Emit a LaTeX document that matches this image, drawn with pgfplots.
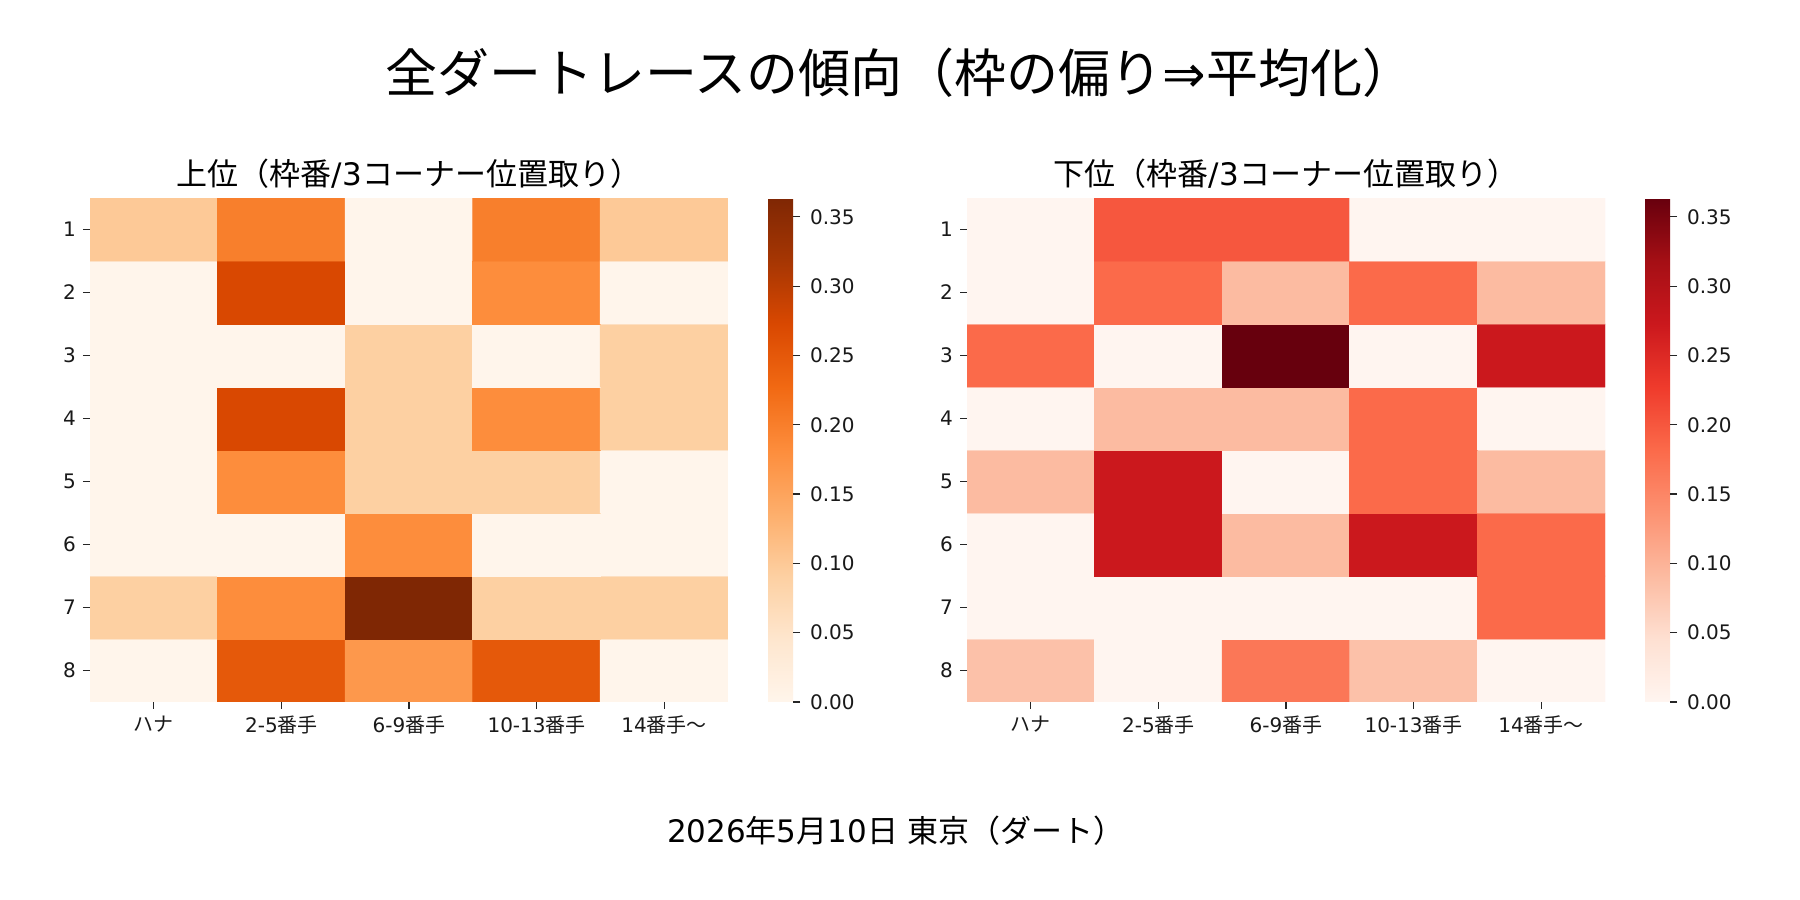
\documentclass[border=0pt]{standalone}
\usepackage{pgfplots}
\pgfplotsset{compat=1.18}
\usepackage{pgfplotstable}
\usepackage{fontspec}
\setmainfont{Noto Sans CJK JP}
\newfontfamily\dv{DejaVu Sans}
\pgfkeys{/pgf/number format/assume math mode=true}
\pgfplotsset{
  colormap={oranges}{rgb255=(255,245,235) rgb255=(254,230,206) rgb255=(253,208,162) rgb255=(253,174,107) rgb255=(253,141,60) rgb255=(241,105,19) rgb255=(217,72,1) rgb255=(166,54,3) rgb255=(127,39,4)},
  colormap={reds}{rgb255=(255,245,240) rgb255=(254,224,210) rgb255=(252,187,161) rgb255=(252,146,114) rgb255=(251,106,74) rgb255=(239,59,44) rgb255=(203,24,29) rgb255=(165,15,21) rgb255=(103,0,13)},
  heat/.style={
    scale only axis, width=319pt, height=252pt, anchor=south west,
    xmin=-0.5, xmax=4.5, ymin=0.5, ymax=8.5,
    axis line style={draw=none},
    xtick={0,1,2,3,4},
    xticklabels={ハナ,{\dv 2-5}番手,{\dv 6-9}番手,{\dv 10-13}番手,{\dv 14}番手〜},
    ytick={1,2,3,4,5,6,7,8},
    yticklabels={8,7,6,5,4,3,2,1},
    tick pos=left, tick align=outside,
    major tick length=3.5pt,
    tick style={black!85, line width=0.6pt},
    xticklabel style={font=\fontsize{10}{12}\selectfont, text=black!90},
    yticklabel style={font=\dv\fontsize{10}{12}\selectfont, text=black!90},
    point meta min=0, point meta max=0.3636,
    colorbar,
    colorbar style={
      at={(parent axis.north east)}, anchor=north west, xshift=11.5pt,
      width=12.5pt,
      axis line style={draw=none},
      ytick={0,0.05,0.1,0.15,0.2,0.25,0.3,0.35},
      ytick pos=right, yticklabel pos=right, ytick align=outside,
      major tick length=3.5pt,
      tick style={black!85, line width=0.6pt},
      yticklabel style={font=\dv\fontsize{10}{12}\selectfont, text=black!90, xshift=1.5pt,
        /pgf/number format/fixed, /pgf/number format/zerofill,
        /pgf/number format/precision=2},
    },
  },
}
% columns: x (0=ハナ ... 4=14番手〜), y (1 = row 8 ... 8 = row 1), value
\pgfplotstableread{
x y v
0 1 0
1 1 0.25
2 1 0.1667
3 1 0.25
4 1 0
0 2 0.0909
1 2 0.1818
2 2 0.3636
3 2 0.0909
4 2 0.0909
0 3 0
1 3 0
2 3 0.1818
3 3 0
4 3 0
0 4 0
1 4 0.1818
2 4 0.0909
3 4 0.0909
4 4 0
0 5 0
1 5 0.2727
2 5 0.0909
3 5 0.1818
4 5 0.0909
0 6 0
1 6 0
2 6 0.0909
3 6 0
4 6 0.0909
0 7 0
1 7 0.2727
2 7 0
3 7 0.1818
4 7 0
0 8 0.1
1 8 0.2
2 8 0
3 8 0.2
4 8 0.1
}\uppertab
\pgfplotstableread{
x y v
0 1 0.0833
1 1 0
2 1 0.1667
3 1 0.0833
4 1 0
0 2 0
1 2 0
2 2 0
3 2 0
4 2 0.1818
0 3 0
1 3 0.2727
2 3 0.0909
3 3 0.2727
4 3 0.1818
0 4 0.0909
1 4 0.2727
2 4 0
3 4 0.1818
4 4 0.0909
0 5 0
1 5 0.0909
2 5 0.0909
3 5 0.1818
4 5 0
0 6 0.1818
1 6 0
2 6 0.3636
3 6 0
4 6 0.2727
0 7 0
1 7 0.1818
2 7 0.0909
3 7 0.1818
4 7 0.0909
0 8 0
1 8 0.2
2 8 0.2
3 8 0
4 8 0
}\lowertab
\begin{document}
\begin{tikzpicture}
\fill[white] (0,0) rectangle (900pt,450pt);
\path[use as bounding box] (0,0) rectangle (900pt,450pt);
\node[anchor=center, text=black] at (450pt,413.5pt) {\fontsize{26}{30}\selectfont 全ダートレースの傾向（枠の偏り{\dv ⇒}平均化）};
\node[anchor=center, text=black] at (204.5pt,363pt) {\fontsize{15.5}{18}\selectfont 上位（枠番{\dv /3}コーナー位置取り）};
\node[anchor=center, text=black] at (643pt,363pt) {\fontsize{15.5}{18}\selectfont 下位（枠番{\dv /3}コーナー位置取り）};
\node[anchor=center, text=black] at (448pt,34.5pt) {\fontsize{15.5}{18}\selectfont {\dv 2026}年{\dv 5}月{\dv 10}日\hspace{0.32em}東京（ダート）};
\begin{axis}[heat, at={(45pt,99pt)}, colormap name=oranges]
\addplot[matrix plot*, mesh/cols=5, point meta=explicit] table[x=x, y=y, meta=v] {\uppertab};
\end{axis}
\begin{axis}[heat, at={(483.5pt,99pt)}, colormap name=reds]
\addplot[matrix plot*, mesh/cols=5, point meta=explicit] table[x=x, y=y, meta=v] {\lowertab};
\end{axis}
\end{tikzpicture}
\end{document}
